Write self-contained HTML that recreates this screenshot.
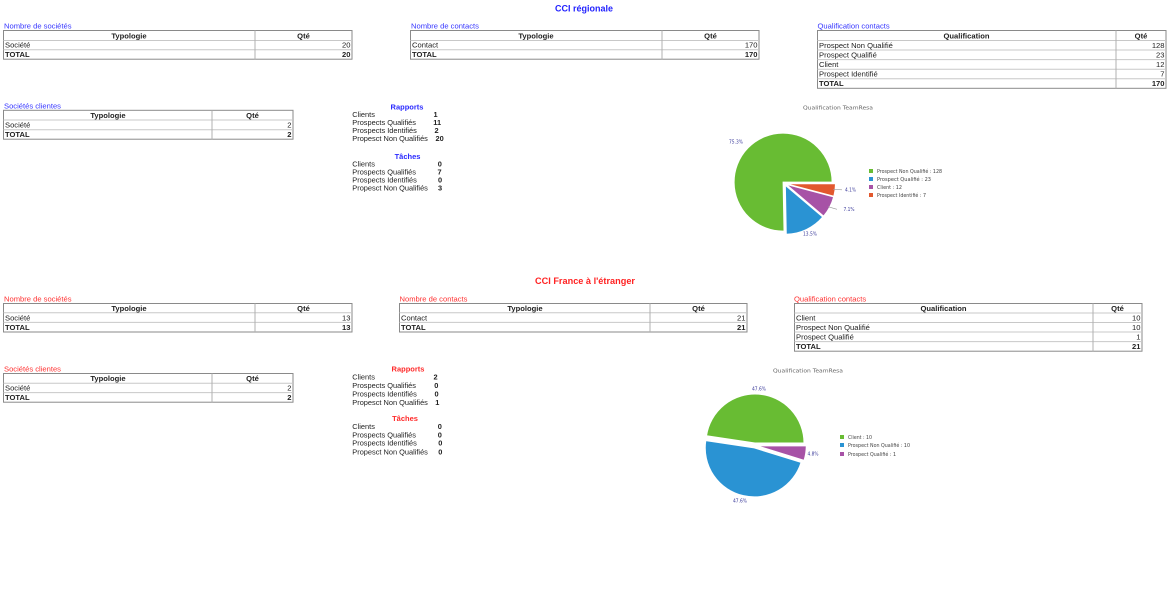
<!DOCTYPE html>
<html><head><meta charset="utf-8"><style>
html,body{margin:0;padding:0;background:#fff;}
svg{display:block;}
text{font-family:"Liberation Sans",Arial,sans-serif;}
.t{font-size:7.6px;fill:#222;}
.b{font-weight:bold;}
.lb{font-size:7.6px;fill:#3535ff;}
.lr{font-size:7.6px;fill:#ff3030;}
.it{font-size:7.4px;fill:#222;}
.pt{font-family:"DejaVu Sans",sans-serif;font-size:5.6px;fill:#666;}
.pl{font-family:"DejaVu Sans",sans-serif;font-size:4.8px;fill:#3a3a9a;}
.lg{font-family:"DejaVu Sans",sans-serif;font-size:5.2px;fill:#444;}
.ob{fill:none;stroke:#8a8a8a;stroke-width:1;}
.rl{stroke:#c8c8c8;stroke-width:1;}
.vd{stroke:#b0b0b0;stroke-width:1;}
</style></head><body>
<svg width="1170" height="597" viewBox="0 0 1170 597" xmlns="http://www.w3.org/2000/svg">
<rect width="1170" height="597" fill="#fff"/>

<!-- ===== TOP SECTION ===== -->
<text x="584" y="11.5" text-anchor="middle" font-size="9" font-weight="bold" fill="#2222ff" textLength="58" lengthAdjust="spacingAndGlyphs">CCI régionale</text>

<!-- T1 -->
<text class="lb" x="4" y="28.5">Nombre de sociétés</text>
<rect class="ob" x="3.5" y="30.5" width="348.5" height="28.7"/>
<line class="rl" x1="3.5" y1="40.5" x2="352" y2="40.5"/>
<line class="rl" x1="3.5" y1="49.8" x2="352" y2="49.8"/>
<line class="vd" x1="255" y1="30.5" x2="255" y2="59.2"/>
<text class="t b" x="129" y="38.3" text-anchor="middle">Typologie</text>
<text class="t b" x="303.5" y="38.3" text-anchor="middle">Qté</text>
<text class="t" x="5" y="47.6">Société</text><text class="t" x="350.5" y="47.6" text-anchor="end">20</text>
<text class="t b" x="5" y="57">TOTAL</text><text class="t b" x="350.5" y="57" text-anchor="end">20</text>

<!-- T2 -->
<text class="lb" x="411" y="28.5">Nombre de contacts</text>
<rect class="ob" x="410.5" y="30.5" width="348.5" height="28.7"/>
<line class="rl" x1="410.5" y1="40.5" x2="759" y2="40.5"/>
<line class="rl" x1="410.5" y1="49.8" x2="759" y2="49.8"/>
<line class="vd" x1="662" y1="30.5" x2="662" y2="59.2"/>
<text class="t b" x="536" y="38.3" text-anchor="middle">Typologie</text>
<text class="t b" x="710.5" y="38.3" text-anchor="middle">Qté</text>
<text class="t" x="412" y="47.6">Contact</text><text class="t" x="757.5" y="47.6" text-anchor="end">170</text>
<text class="t b" x="412" y="57">TOTAL</text><text class="t b" x="757.5" y="57" text-anchor="end">170</text>

<!-- T3 -->
<text class="lb" x="817.5" y="28.5">Qualification contacts</text>
<rect class="ob" x="817.5" y="30.5" width="348.5" height="57.8"/>
<line class="rl" x1="817.5" y1="40.5" x2="1166" y2="40.5"/>
<line class="rl" x1="817.5" y1="50" x2="1166" y2="50"/>
<line class="rl" x1="817.5" y1="59.6" x2="1166" y2="59.6"/>
<line class="rl" x1="817.5" y1="69.2" x2="1166" y2="69.2"/>
<line class="rl" x1="817.5" y1="78.8" x2="1166" y2="78.8"/>
<line class="vd" x1="1116" y1="30.5" x2="1116" y2="88.3"/>
<text class="t b" x="966.5" y="38.3" text-anchor="middle">Qualification</text>
<text class="t b" x="1141" y="38.3" text-anchor="middle">Qté</text>
<text class="t" x="819" y="47.8">Prospect Non Qualifié</text><text class="t" x="1164.5" y="47.8" text-anchor="end">128</text>
<text class="t" x="819" y="57.4">Prospect Qualifié</text><text class="t" x="1164.5" y="57.4" text-anchor="end">23</text>
<text class="t" x="819" y="67">Client</text><text class="t" x="1164.5" y="67" text-anchor="end">12</text>
<text class="t" x="819" y="76.6">Prospect Identifié</text><text class="t" x="1164.5" y="76.6" text-anchor="end">7</text>
<text class="t b" x="819" y="86.1">TOTAL</text><text class="t b" x="1164.5" y="86.1" text-anchor="end">170</text>

<!-- T4 -->
<text class="lb" x="4" y="108.5">Sociétés clientes</text>
<rect class="ob" x="3.5" y="110.3" width="289.5" height="28.9"/>
<line class="rl" x1="3.5" y1="120" x2="293" y2="120"/>
<line class="rl" x1="3.5" y1="129.7" x2="293" y2="129.7"/>
<line class="vd" x1="212" y1="110.3" x2="212" y2="139.2"/>
<text class="t b" x="108" y="117.9" text-anchor="middle">Typologie</text>
<text class="t b" x="252.5" y="117.9" text-anchor="middle">Qté</text>
<text class="t" x="5" y="127.5">Société</text><text class="t" x="291.5" y="127.5" text-anchor="end">2</text>
<text class="t b" x="5" y="137">TOTAL</text><text class="t b" x="291.5" y="137" text-anchor="end">2</text>

<!-- Rapports / Taches top -->
<text x="407" y="109.3" text-anchor="middle" font-size="7.5" font-weight="bold" fill="#2a2aff">Rapports</text>
<text class="it" x="352.3" y="117">Clients</text><text class="it b" x="433.5" y="117">1</text>
<text class="it" x="352.3" y="125">Prospects Qualifiés</text><text class="it b" x="433.3" y="125">11</text>
<text class="it" x="352.3" y="133">Prospects Identifiés</text><text class="it b" x="434.5" y="133">2</text>
<text class="it" x="352.3" y="141">Propesct Non Qualifiés</text><text class="it b" x="435.5" y="141">20</text>
<text x="407.5" y="158.8" text-anchor="middle" font-size="7.5" font-weight="bold" fill="#2a2aff">Tâches</text>
<text class="it" x="352.3" y="166.7">Clients</text><text class="it b" x="437.8" y="166.7">0</text>
<text class="it" x="352.3" y="174.7">Prospects Qualifiés</text><text class="it b" x="437.5" y="174.7">7</text>
<text class="it" x="352.3" y="182.7">Prospects Identifiés</text><text class="it b" x="438" y="182.7">0</text>
<text class="it" x="352.3" y="190.7">Propesct Non Qualifiés</text><text class="it b" x="438" y="190.7">3</text>

<!-- Pie 1 -->
<text class="pt" x="838" y="109.5" text-anchor="middle" textLength="70" lengthAdjust="spacingAndGlyphs">Qualification TeamResa</text>
<g stroke="#fff" stroke-width="1">
<path d="M783.1,182.1 L832.1,182.1 A49,49 0 1 0 784.02,231.09 Z" fill="#68bc33"/>
<path d="M785.36,185.31 L786.28,234.30 A49,49 0 0 0 822.72,217.0 Z" fill="#2a93d3"/>
<path d="M786.27,184.42 L823.63,216.11 A49,49 0 0 0 833.65,196.91 Z" fill="#a752a6"/>
<path d="M786.48,183.76 L833.86,196.25 A49,49 0 0 0 835.48,183.76 Z" fill="#e2582e"/>
</g>
<line x1="833" y1="189.3" x2="842" y2="189.8" stroke="#999" stroke-width="0.6"/>
<line x1="828" y1="206.7" x2="837" y2="209.3" stroke="#999" stroke-width="0.6"/>
<text class="pl" x="736" y="143.7" text-anchor="middle" textLength="14" lengthAdjust="spacingAndGlyphs">75.3%</text>
<text class="pl" x="810" y="235.7" text-anchor="middle" textLength="14" lengthAdjust="spacingAndGlyphs">13.5%</text>
<text class="pl" x="843.5" y="210.8" textLength="11" lengthAdjust="spacingAndGlyphs">7.1%</text>
<text class="pl" x="845" y="191.6" textLength="11" lengthAdjust="spacingAndGlyphs">4.1%</text>
<rect x="869" y="169" width="4" height="4" fill="#68bc33"/>
<rect x="869" y="177" width="4" height="4" fill="#2a93d3"/>
<rect x="869" y="185" width="4" height="4" fill="#a752a6"/>
<rect x="869" y="193" width="4" height="4" fill="#e2582e"/>
<text class="lg" x="877" y="173" textLength="65" lengthAdjust="spacingAndGlyphs">Prospect Non Qualifié : 128</text>
<text class="lg" x="877" y="181" textLength="54" lengthAdjust="spacingAndGlyphs">Prospect Qualifié : 23</text>
<text class="lg" x="877" y="189" textLength="25" lengthAdjust="spacingAndGlyphs">Client : 12</text>
<text class="lg" x="877" y="197" textLength="49" lengthAdjust="spacingAndGlyphs">Prospect Identifié : 7</text>

<!-- ===== BOTTOM SECTION ===== -->
<text x="585" y="283.8" text-anchor="middle" font-size="9" font-weight="bold" fill="#ff2222" textLength="100" lengthAdjust="spacingAndGlyphs">CCI France à l'étranger</text>

<!-- T5 -->
<text class="lr" x="4" y="301.5">Nombre de sociétés</text>
<rect class="ob" x="3.5" y="303.5" width="348.5" height="28.5"/>
<line class="rl" x1="3.5" y1="312.8" x2="352" y2="312.8"/>
<line class="rl" x1="3.5" y1="322.4" x2="352" y2="322.4"/>
<line class="vd" x1="255" y1="303.5" x2="255" y2="332"/>
<text class="t b" x="129" y="311" text-anchor="middle">Typologie</text>
<text class="t b" x="303.5" y="311" text-anchor="middle">Qté</text>
<text class="t" x="5" y="320.4">Société</text><text class="t" x="350.5" y="320.4" text-anchor="end">13</text>
<text class="t b" x="5" y="330">TOTAL</text><text class="t b" x="350.5" y="330" text-anchor="end">13</text>

<!-- T6 -->
<text class="lr" x="399.5" y="301.5">Nombre de contacts</text>
<rect class="ob" x="399.5" y="303.5" width="347.5" height="28.5"/>
<line class="rl" x1="399.5" y1="312.8" x2="747" y2="312.8"/>
<line class="rl" x1="399.5" y1="322.4" x2="747" y2="322.4"/>
<line class="vd" x1="650" y1="303.5" x2="650" y2="332"/>
<text class="t b" x="525" y="311" text-anchor="middle">Typologie</text>
<text class="t b" x="698.5" y="311" text-anchor="middle">Qté</text>
<text class="t" x="401" y="320.4">Contact</text><text class="t" x="745.5" y="320.4" text-anchor="end">21</text>
<text class="t b" x="401" y="330">TOTAL</text><text class="t b" x="745.5" y="330" text-anchor="end">21</text>

<!-- T7 -->
<text class="lr" x="794" y="301.5">Qualification contacts</text>
<rect class="ob" x="794.5" y="303.5" width="347.5" height="47.7"/>
<line class="rl" x1="794.5" y1="313" x2="1142" y2="313"/>
<line class="rl" x1="794.5" y1="322.5" x2="1142" y2="322.5"/>
<line class="rl" x1="794.5" y1="332" x2="1142" y2="332"/>
<line class="rl" x1="794.5" y1="341.6" x2="1142" y2="341.6"/>
<line class="vd" x1="1093" y1="303.5" x2="1093" y2="351.2"/>
<text class="t b" x="943.5" y="311.2" text-anchor="middle">Qualification</text>
<text class="t b" x="1117.5" y="311.2" text-anchor="middle">Qté</text>
<text class="t" x="796" y="320.5">Client</text><text class="t" x="1140.5" y="320.5" text-anchor="end">10</text>
<text class="t" x="796" y="330">Prospect Non Qualifié</text><text class="t" x="1140.5" y="330" text-anchor="end">10</text>
<text class="t" x="796" y="339.6">Prospect Qualifié</text><text class="t" x="1140.5" y="339.6" text-anchor="end">1</text>
<text class="t b" x="796" y="349.1">TOTAL</text><text class="t b" x="1140.5" y="349.1" text-anchor="end">21</text>

<!-- T8 -->
<text class="lr" x="4" y="371.5">Sociétés clientes</text>
<rect class="ob" x="3.5" y="373.5" width="289.5" height="28.7"/>
<line class="rl" x1="3.5" y1="383.2" x2="293" y2="383.2"/>
<line class="rl" x1="3.5" y1="392.6" x2="293" y2="392.6"/>
<line class="vd" x1="212" y1="373.5" x2="212" y2="402.2"/>
<text class="t b" x="108" y="381" text-anchor="middle">Typologie</text>
<text class="t b" x="252.5" y="381" text-anchor="middle">Qté</text>
<text class="t" x="5" y="390.6">Société</text><text class="t" x="291.5" y="390.6" text-anchor="end">2</text>
<text class="t b" x="5" y="400">TOTAL</text><text class="t b" x="291.5" y="400" text-anchor="end">2</text>

<!-- Rapports / Taches bottom -->
<text x="408" y="371.7" text-anchor="middle" font-size="7.5" font-weight="bold" fill="#ff2a2a">Rapports</text>
<text class="it" x="352.3" y="379.5">Clients</text><text class="it b" x="433.5" y="379.5">2</text>
<text class="it" x="352.3" y="388.2">Prospects Qualifiés</text><text class="it b" x="434.3" y="388.2">0</text>
<text class="it" x="352.3" y="396.5">Prospects Identifiés</text><text class="it b" x="434.5" y="396.5">0</text>
<text class="it" x="352.3" y="404.8">Propesct Non Qualifiés</text><text class="it b" x="435.3" y="404.8">1</text>
<text x="405" y="421" text-anchor="middle" font-size="7.5" font-weight="bold" fill="#ff2a2a">Tâches</text>
<text class="it" x="352.3" y="429">Clients</text><text class="it b" x="437.7" y="429">0</text>
<text class="it" x="352.3" y="437.4">Prospects Qualifiés</text><text class="it b" x="437.7" y="437.4">0</text>
<text class="it" x="352.3" y="445.7">Prospects Identifiés</text><text class="it b" x="438.3" y="445.7">0</text>
<text class="it" x="352.3" y="454.4">Propesct Non Qualifiés</text><text class="it b" x="438.3" y="454.4">0</text>

<!-- Pie 2 -->
<text class="pt" x="808" y="372.7" text-anchor="middle" textLength="70" lengthAdjust="spacingAndGlyphs">Qualification TeamResa</text>
<g stroke="#fff" stroke-width="1">
<path d="M754.99,443.01 L803.99,443.01 A49,49 0 0 0 706.54,435.71 Z" fill="#68bc33"/>
<path d="M754.24,447.94 L705.79,440.64 A49,49 0 0 0 801.06,462.38 Z" fill="#2a93d3"/>
<path d="M757.27,445.87 L804.09,460.31 A49,49 0 0 0 806.27,445.87 Z" fill="#a752a6"/>
</g>
<text class="pl" x="759" y="390.7" text-anchor="middle" textLength="14" lengthAdjust="spacingAndGlyphs">47.6%</text>
<text class="pl" x="740" y="502.7" text-anchor="middle" textLength="14" lengthAdjust="spacingAndGlyphs">47.6%</text>
<text class="pl" x="813" y="455.7" text-anchor="middle" textLength="11" lengthAdjust="spacingAndGlyphs">4.8%</text>
<rect x="840" y="435" width="4" height="4" fill="#68bc33"/>
<rect x="840" y="443" width="4" height="4" fill="#2a93d3"/>
<rect x="840" y="452" width="4" height="4" fill="#a752a6"/>
<text class="lg" x="848" y="439" textLength="24" lengthAdjust="spacingAndGlyphs">Client : 10</text>
<text class="lg" x="848" y="447" textLength="62" lengthAdjust="spacingAndGlyphs">Prospect Non Qualifié : 10</text>
<text class="lg" x="848" y="456" textLength="48" lengthAdjust="spacingAndGlyphs">Prospect Qualifié : 1</text>
</svg>
</body></html>
